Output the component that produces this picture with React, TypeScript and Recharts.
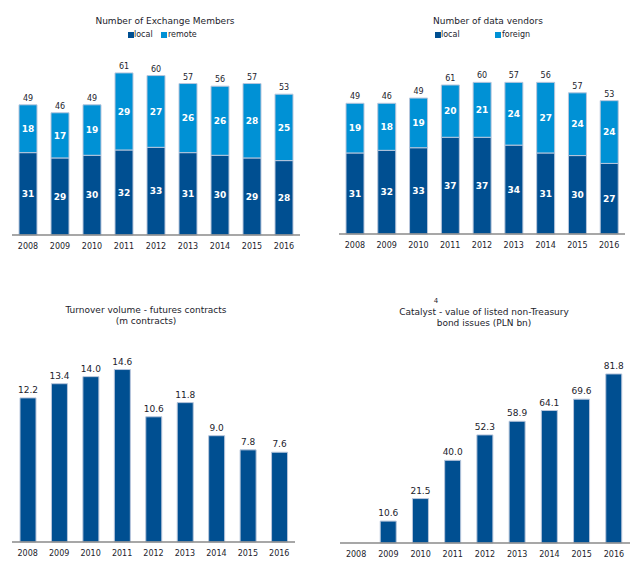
import { BarChart, Bar, XAxis, YAxis, LabelList } from "recharts";

const years = ["2008", "2009", "2010", "2011", "2012", "2013", "2014", "2015", "2016"];

const membersLocal = [31, 29, 30, 32, 33, 31, 30, 29, 28];
const membersRemote = [18, 17, 19, 29, 27, 26, 26, 28, 25];
const membersTotal = [49, 46, 49, 61, 60, 57, 56, 57, 53];

const vendorsLocal = [31, 32, 33, 37, 37, 34, 31, 30, 27];
const vendorsForeign = [19, 18, 19, 20, 21, 24, 27, 24, 24];
const vendorsTotal = [49, 46, 49, 61, 60, 57, 56, 57, 53];

const futures = [12.2, 13.4, 14.0, 14.6, 10.6, 11.8, 9.0, 7.8, 7.6];
const catalyst = [null, 10.6, 21.5, 40.0, 52.3, 58.9, 64.1, 69.6, 81.8];

const membersData = years.map((y, i) => ({ year: y, local: membersLocal[i], remote: membersRemote[i], total: membersTotal[i] }));
const vendorsData = years.map((y, i) => ({ year: y, local: vendorsLocal[i], foreign: vendorsForeign[i], total: vendorsTotal[i] }));
const futuresData = years.map((y, i) => ({ year: y, value: futures[i] }));
const catalystData = years.map((y, i) => ({ year: y, value: catalyst[i] }));

const DARK = "#004F91";
const LIGHT = "#0091D5";
const EDGE = "#b8c6dc";
const FONT = "'DejaVu Sans', Verdana, sans-serif";
const TEXT = "#1c1c2c";

const tick = { fontSize: 8, fill: TEXT, fontFamily: FONT };
const axisLine = { stroke: "#8a8a8a", strokeWidth: 1.5 };
const inner = { fill: "#fff", fontSize: 9, fontWeight: "bold", fontFamily: FONT };
const outer = { fill: TEXT, fontSize: 8, fontFamily: FONT };
const oneDec = (v: any) => (v == null ? "" : Number(v).toFixed(1));

const abs = (left: number, top: number): React.CSSProperties => ({ position: "absolute", left, top });
const title: React.CSSProperties = { position: "absolute", fontFamily: FONT, fontSize: 9, color: TEXT, textAlign: "center", lineHeight: "11px", whiteSpace: "nowrap" };
const legendTxt: React.CSSProperties = { position: "absolute", fontFamily: FONT, fontSize: 8, color: TEXT, lineHeight: "10px", whiteSpace: "nowrap" };
const sq = (left: number, top: number, color: string) => (
  <div style={{ position: "absolute", left, top, width: 6, height: 6, background: color }} />
);

export default function App() {
  return (
    <div style={{ position: "absolute", left: 0, top: 0, width: 638, height: 573, background: "#fff", overflow: "hidden" }}>
      {/* top left */}
      <div style={{ ...title, left: 65, top: 16, width: 200 }}>Number of Exchange Members</div>
      {sq(128, 32, DARK)}
      <div style={{ ...legendTxt, left: 134, top: 30 }}>local</div>
      {sq(161, 32, LIGHT)}
      <div style={{ ...legendTxt, left: 168, top: 30 }}>remote</div>
      <div style={abs(0, 0)}>
        <BarChart width={320} height={260} data={membersData} margin={{ top: 49, right: 20, bottom: 5, left: 12 }}>
          <XAxis dataKey="year" height={20} tick={tick} tickLine={false} axisLine={axisLine} interval={0} />
          <YAxis hide domain={[0, 70]} />
          <Bar dataKey="local" stackId="a" fill={DARK} stroke={EDGE} barSize={18} isAnimationActive={false}>
            <LabelList dataKey="local" position="center" {...inner} />
          </Bar>
          <Bar dataKey="remote" stackId="a" fill={LIGHT} stroke={EDGE} barSize={18} isAnimationActive={false}>
            <LabelList dataKey="remote" position="center" {...inner} />
            <LabelList dataKey="total" position="top" offset={4} {...outer} />
          </Bar>
        </BarChart>
      </div>

      {/* top right */}
      <div style={{ ...title, left: 388, top: 16, width: 200 }}>Number of data vendors</div>
      {sq(435, 32, DARK)}
      <div style={{ ...legendTxt, left: 441, top: 30 }}>local</div>
      {sq(495, 32, LIGHT)}
      <div style={{ ...legendTxt, left: 502, top: 30 }}>foreign</div>
      <div style={abs(320, 0)}>
        <BarChart width={318} height={260} data={vendorsData} margin={{ top: 51, right: 13, bottom: 6, left: 19 }}>
          <XAxis dataKey="year" height={20} tick={tick} tickLine={false} axisLine={axisLine} interval={0} />
          <YAxis hide domain={[0, 70]} />
          <Bar dataKey="local" stackId="a" fill={DARK} stroke={EDGE} barSize={18} isAnimationActive={false}>
            <LabelList dataKey="local" position="center" {...inner} />
          </Bar>
          <Bar dataKey="foreign" stackId="a" fill={LIGHT} stroke={EDGE} barSize={18} isAnimationActive={false}>
            <LabelList dataKey="foreign" position="center" {...inner} />
            <LabelList dataKey="total" position="top" offset={4} {...outer} />
          </Bar>
        </BarChart>
      </div>

      {/* bottom left */}
      <div style={{ ...title, left: 46, top: 305, width: 200 }}>
        Turnover volume - futures contracts
        <br />
        (m contracts)
      </div>
      <div style={abs(0, 290)}>
        <BarChart width={320} height={283} data={futuresData} margin={{ top: 63, right: 25, bottom: 11, left: 12 }}>
          <XAxis dataKey="year" height={20} tick={tick} tickLine={false} axisLine={axisLine} interval={0} />
          <YAxis hide domain={[0, 16]} />
          <Bar dataKey="value" fill={DARK} stroke={EDGE} barSize={16} isAnimationActive={false}>
            <LabelList dataKey="value" position="top" offset={5} formatter={oneDec} {...outer} fontSize={9} />
          </Bar>
        </BarChart>
      </div>

      {/* bottom right */}
      <div style={{ ...title, left: 384, top: 297, width: 200, fontSize: 7, lineHeight: "8px" }}>
        <span style={{ position: "relative", left: -48 }}>4</span>
      </div>
      <div style={{ ...title, left: 384, top: 307, width: 200 }}>
        Catalyst - value of listed non-Treasury
        <br />
        bond issues (PLN bn)
      </div>
      <div style={abs(320, 290)}>
        <BarChart width={318} height={283} data={catalystData} margin={{ top: 67, right: 8, bottom: 10, left: 20 }}>
          <XAxis dataKey="year" height={20} tick={tick} tickLine={false} axisLine={axisLine} interval={0} />
          <YAxis hide domain={[0, 90]} />
          <Bar dataKey="value" fill={DARK} stroke={EDGE} barSize={16} isAnimationActive={false}>
            <LabelList dataKey="value" position="top" offset={5} formatter={oneDec} {...outer} fontSize={9} />
          </Bar>
        </BarChart>
      </div>
    </div>
  );
}
